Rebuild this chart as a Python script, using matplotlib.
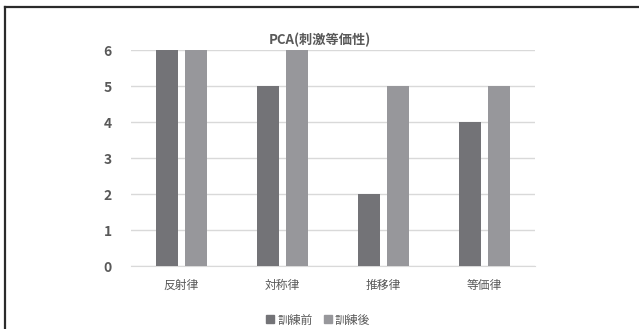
import matplotlib.pyplot as plt
import numpy as np
from matplotlib.lines import Line2D

plt.rcParams['font.family'] = ['Noto Sans CJK JP', 'DejaVu Sans']

categories = ["反射律", "対称律", "推移律", "等価律"]
before = [6, 5, 2, 4]
after = [6, 6, 5, 5]
labels = ["訓練前", "訓練後"]
colors = ["#737377", "#97979b"]
text_color = "#595959"

fig = plt.figure(figsize=(6.39, 3.29), dpi=100)
ax = fig.add_axes([131 / 639, 1 - 266 / 329, 404 / 639, 216 / 329])

x = np.arange(len(categories))
w = 0.22
ax.bar(x - 0.142, before, w, color=colors[0], label=labels[0], zorder=3)
ax.bar(x + 0.142, after, w, color=colors[1], label=labels[1], zorder=3)

ax.set_xlim(-0.5, 3.5)
ax.set_ylim(0, 6)
ax.set_yticks(range(7))
ax.set_xticks(x)
ax.set_xticklabels(categories)
ax.grid(axis="y", color="#d9d9d9", linewidth=1, zorder=0)
for s in ax.spines.values():
    s.set_visible(False)
ax.spines["bottom"].set_visible(True)
ax.spines["bottom"].set_color("#d9d9d9")
ax.tick_params(length=0, colors=text_color)
ax.tick_params(axis="y", labelsize=10, pad=14)
ax.tick_params(axis="x", labelsize=8.5, pad=9)
for t in ax.get_yticklabels():
    t.set_fontweight("bold")

fig.text(320 / 639, 1 - 40 / 329, "PCA(刺激等価性)", ha="center", va="center",
         fontsize=9.5, fontweight="bold", color=text_color)

handles = [Line2D([], [], marker="s", linestyle="", markersize=6, color=c) for c in colors]
fig.legend(handles, labels, loc="center", bbox_to_anchor=(317 / 639, 1 - 320 / 329),
           ncol=2, frameon=False, fontsize=8.5, handletextpad=0.1, columnspacing=0.8,
           labelcolor=text_color, handlelength=1)

# outer frame (top and left visible)
fig.add_artist(Line2D([5 / 639, 1], [1 - 7 / 329, 1 - 7 / 329], color="#2b2b2b",
                      linewidth=1.6, transform=fig.transFigure))
fig.add_artist(Line2D([5 / 639, 5 / 639], [0, 1 - 7 / 329], color="#2b2b2b",
                      linewidth=1.6, transform=fig.transFigure))

fig.savefig("out.png", dpi=100)
